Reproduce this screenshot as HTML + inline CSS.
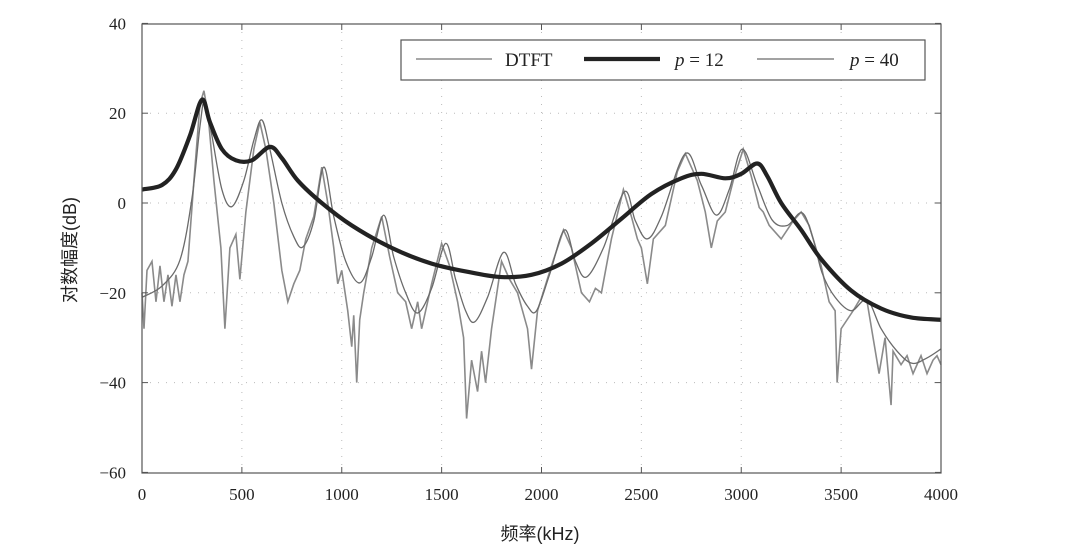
<!DOCTYPE html>
<html><head><meta charset="utf-8"><style>
html,body{margin:0;padding:0;background:#fff;}
svg{display:block;font-family:"Liberation Serif","Noto Serif CJK SC",serif;}
</style></head><body>
<svg id="s" width="1080" height="554" viewBox="0 0 1080 554" xmlns="http://www.w3.org/2000/svg">
<g id="grid" stroke="#bbb" stroke-width="1" stroke-dasharray="1,7"></g>
<path id="dtft" fill="none" stroke="#8a8a8a" stroke-width="1.6"/>
<path id="p40" fill="none" stroke="#6a6a6a" stroke-width="1.3"/>
<path id="p12" fill="none" stroke="#222" stroke-width="4.2" stroke-linejoin="round"/>
<rect x="142" y="24" width="799" height="449" fill="none" stroke="#555" stroke-width="1.2"/>
<g id="ticks" stroke="#555" stroke-width="1"></g>
<g id="labels" font-size="17" fill="#222"></g>
<rect x="401" y="40" width="524" height="40" fill="#fff" stroke="#555" stroke-width="1.2"/>
<line x1="416" y1="59" x2="492" y2="59" stroke="#8a8a8a" stroke-width="1.6"/>
<text x="505" y="66" font-size="19" fill="#222">DTFT</text>
<line x1="584" y1="59" x2="660" y2="59" stroke="#222" stroke-width="4.2"/>
<text x="675" y="66" font-size="19" fill="#222"><tspan font-style="italic">p</tspan> = 12</text>
<line x1="757" y1="59" x2="834" y2="59" stroke="#6a6a6a" stroke-width="1.3"/>
<text x="850" y="66" font-size="19" fill="#222"><tspan font-style="italic">p</tspan> = 40</text>
<text x="540" y="540" font-size="18" text-anchor="middle" fill="#222" font-family="Liberation Sans,Noto Sans CJK SC,sans-serif">频率(kHz)</text>
<text transform="translate(76,250) rotate(-90)" font-size="18" text-anchor="middle" fill="#222" font-family="Liberation Sans,Noto Sans CJK SC,sans-serif">对数幅度(dB)</text>
</svg>
<script>
function X(f){return 142+f*799/4000;}
function Y(d){return 203-d*4.49;}
var g=document.getElementById('grid'),t=document.getElementById('ticks'),l=document.getElementById('labels');
var ns="http://www.w3.org/2000/svg";
function el(p,n,a,txt){var e=document.createElementNS(ns,n);for(var k in a)e.setAttribute(k,a[k]);if(txt)e.textContent=txt;p.appendChild(e);}
for(var f=0;f<=4000;f+=500){var x=X(f);if(f>0&&f<4000)el(g,'line',{x1:x,y1:24,x2:x,y2:473});
el(t,'line',{x1:x,y1:473,x2:x,y2:467});el(t,'line',{x1:x,y1:24,x2:x,y2:30});
el(l,'text',{x:x,y:500,'text-anchor':'middle'},String(f));}
for(var d=-60;d<=40;d+=20){var y=Y(d);if(d>-60&&d<40)el(g,'line',{x1:142,y1:y,x2:941,y2:y});
el(t,'line',{x1:142,y1:y,x2:148,y2:y});el(t,'line',{x1:941,y1:y,x2:935,y2:y});
el(l,'text',{x:126,y:y+6,'text-anchor':'end'},(d<0?'\u2212'+(-d):String(d)));}
function smooth(pts){var P=pts.map(function(p){return [X(p[0]),Y(p[1])];});var s='M'+P[0][0]+','+P[0][1];
for(var i=0;i<P.length-1;i++){var p0=P[i-1]||P[i],p1=P[i],p2=P[i+1],p3=P[i+2]||p2;
s+=' C'+(p1[0]+(p2[0]-p0[0])/6)+','+(p1[1]+(p2[1]-p0[1])/6)+' '+(p2[0]-(p3[0]-p1[0])/6)+','+(p2[1]-(p3[1]-p1[1])/6)+' '+p2[0]+','+p2[1];}return s;}
function poly(pts){return 'M'+pts.map(function(p){return X(p[0])+','+Y(p[1]);}).join(' L');}
var p12=[[0,3],[100,4],[170,7.5],[240,15],[300,23],[340,18],[400,12],[470,9.5],[550,9.5],[640,12.5],[700,10],[780,5],[900,0],[1050,-5],[1250,-10],[1450,-13.5],[1650,-15.5],[1800,-16.5],[1950,-16],[2100,-13.5],[2250,-9],[2400,-3.5],[2550,2],[2700,5.5],[2800,6.5],[2920,5.5],[3000,6.5],[3080,8.8],[3130,6],[3200,0],[3300,-6],[3400,-12.5],[3550,-19.5],[3700,-23.5],[3850,-25.5],[4000,-26]];
var p40=[[0,-21],[100,-18.5],[190,-12.7],[250,1],[290,17],[315,23],[350,15],[400,3],[450,-0.8],[510,5],[560,14],[600,18.5],[640,12],[700,0],[760,-7.5],[805,-9.8],[860,-4],[910,8],[960,-3],[1020,-13],[1090,-17.8],[1150,-12],[1210,-2.7],[1260,-12],[1320,-20],[1380,-24.5],[1450,-19],[1520,-9],[1570,-17],[1620,-24],[1665,-26.5],[1730,-21],[1810,-11],[1870,-18],[1930,-23],[1975,-24],[2040,-16],[2115,-6],[2170,-13],[2225,-16.5],[2310,-10],[2415,2.5],[2470,-4],[2530,-8],[2600,-3],[2720,11],[2800,4],[2875,-2.7],[2940,3],[3005,12],[3080,4],[3155,-3.8],[3230,-5],[3305,-2.2],[3360,-8],[3405,-15.6],[3470,-21],[3550,-24],[3630,-21.6],[3700,-28],[3780,-33],[3855,-35.7],[3930,-34.5],[4000,-32.5]];
var dt=[[0,-20],[10,-28],[25,-15],[50,-13],[70,-22],[90,-14],[110,-22],[130,-16],[150,-23],[170,-16],[190,-22],[210,-16],[230,-13],[260,5],[290,22],[310,25],[330,20],[360,5],[395,-10],[415,-28],[440,-10],[470,-7],[490,-17],[520,-2],[560,12],[590,18],[620,12],[660,0],[700,-15],[730,-22],[760,-18],[790,-15],[820,-8],[860,-3],[900,8],[930,0],[960,-10],[980,-18],[1000,-15],[1030,-24],[1050,-32],[1060,-25],[1075,-40],[1090,-26],[1110,-20],[1150,-10],[1200,-3],[1240,-12],[1280,-20],[1320,-22],[1350,-28],[1380,-22],[1400,-28],[1450,-18],[1500,-9],[1540,-14],[1580,-22],[1610,-30],[1625,-48],[1650,-35],[1680,-42],[1700,-33],[1720,-40],[1750,-28],[1800,-13],[1840,-17],[1880,-20],[1930,-28],[1950,-37],[1980,-24],[2050,-14],[2110,-6],[2150,-10],[2200,-20],[2240,-22],[2270,-19],[2300,-20],[2350,-8],[2410,3],[2450,-3],[2480,-8],[2500,-10],[2530,-18],[2560,-8],[2620,-5],[2680,7],[2720,11],[2780,5],[2820,-2],[2850,-10],[2880,-4],[2920,-2],[2960,5],[3010,12],[3050,6],[3090,-1],[3110,-2],[3140,-5],[3200,-8],[3260,-4],[3300,-2],[3340,-5],[3400,-14],[3440,-22],[3470,-24],[3480,-40],[3500,-28],[3560,-24],[3600,-21],[3630,-22],[3660,-30],[3690,-38],[3720,-30],[3750,-45],[3760,-33],[3800,-36],[3830,-34],[3860,-38],[3900,-34],[3930,-38],[3960,-35],[3980,-34],[4000,-36]];
document.getElementById('p12').setAttribute('d',smooth(p12));
document.getElementById('p40').setAttribute('d',smooth(p40));
document.getElementById('dtft').setAttribute('d',poly(dt));
</script>
</body></html>
